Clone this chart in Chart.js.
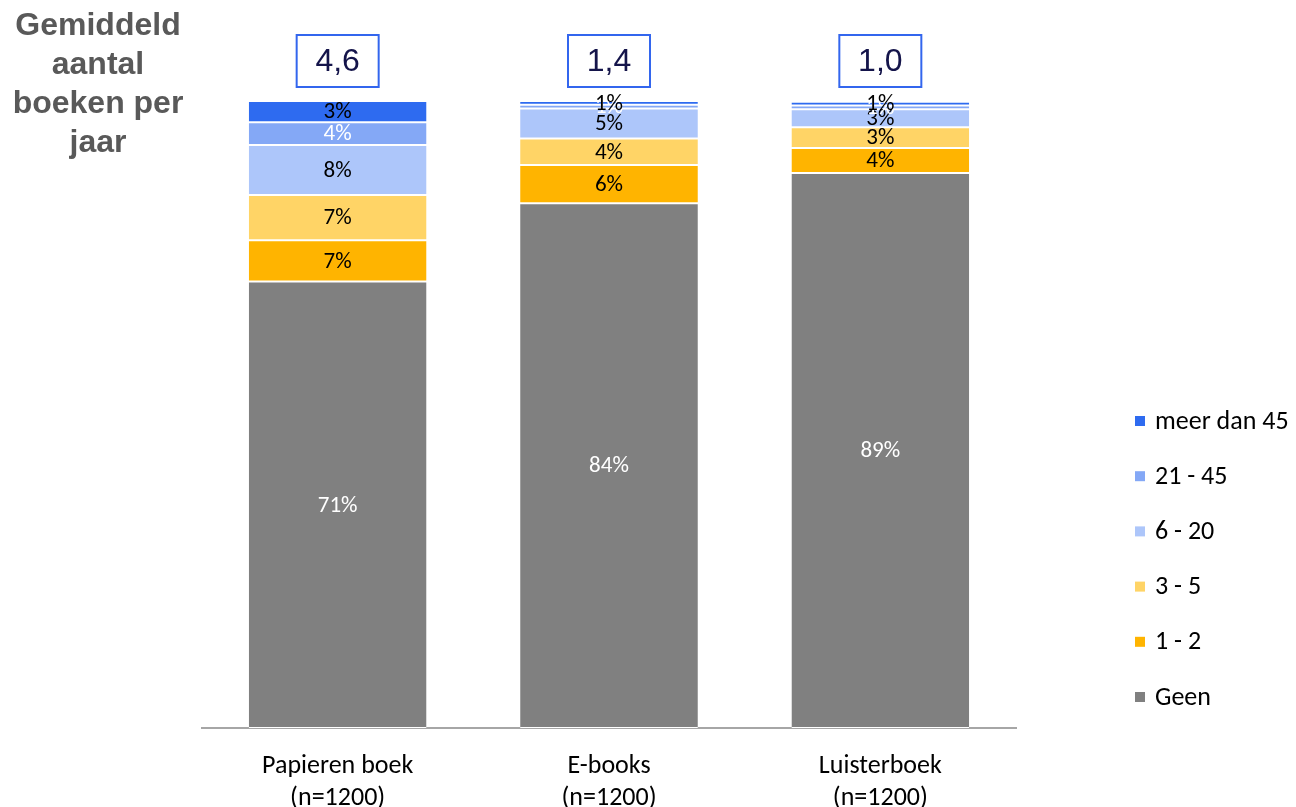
<!DOCTYPE html>
<html>
<head>
<meta charset="utf-8">
<script src="https://cdn.jsdelivr.net/npm/chart.js@4.4.0/dist/chart.umd.min.js"></script>
<style>
  html, body { margin: 0; padding: 0; background: #fff; }
  #wrap { position: relative; width: 1296px; height: 807px; }
  #title {
    position: absolute; left: 0; top: 5px; width: 196px;
    font: bold 32px "Liberation Sans", Arial, sans-serif; line-height: 39px;
    color: #595959; text-align: center;
  }
</style>
</head>
<body>
<div id="wrap">
  <canvas id="chart" width="1296" height="807"></canvas>
  <div id="title">Gemiddeld<br>aantal<br>boeken per<br>jaar</div>
</div>
<script>
// ---------- Data ----------
const categories = [["Papieren boek", "(n=1200)"], ["E-books", "(n=1200)"], ["Luisterboek", "(n=1200)"]];
const avgBooks   = [4.6, 1.4, 1.0];

const geen     = [71.2, 83.7, 88.5];
const een2     = [6.6, 6.1, 4.0];
const drie5    = [7.2, 4.2, 3.3];
const zes20    = [8.0, 4.8, 2.9];
const t21_45   = [3.6, 0.6, 0.6];
const meer45   = [3.4, 0.6, 0.6];

const seriesNames = ["Geen", "1 - 2", "3 - 5", "6 - 20", "21 - 45", "meer dan 45"];
const seriesColors = ["#808080", "#FFB400", "#FFD466", "#ADC6FA", "#84A8F6", "#2E6BF0"];
const labelColors  = ["#ffffff", "#000000", "#000000", "#000000", "#ffffff", "#000000"];

const FONT = "Carlito, Lato, sans-serif";

// ---------- Plugins ----------
const segLabels = {
  id: "segLabels",
  afterDatasetsDraw(chart) {
    const ctx = chart.ctx;
    ctx.save();
    ctx.font = "23px " + FONT;
    ctx.textAlign = "center";
    ctx.textBaseline = "middle";
    chart.data.datasets.forEach((ds, i) => {
      const meta = chart.getDatasetMeta(i);
      meta.data.forEach((bar, j) => {
        const v = ds.data[j];
        ctx.fillStyle = labelColors[i];
        ctx.fillText(Math.round(v) + "%", bar.x, (bar.y + bar.base) / 2 + 1);
      });
    });
    ctx.restore();
  }
};

const avgBoxes = {
  id: "avgBoxes",
  afterDraw(chart) {
    const ctx = chart.ctx;
    const x = chart.scales.x;
    ctx.save();
    avgBooks.forEach((v, i) => {
      const cx = x.getPixelForValue(i);
      const w = 82, h = 52, top = 35;
      ctx.fillStyle = "#fff";
      ctx.fillRect(cx - w / 2, top, w, h);
      ctx.strokeStyle = "#3366EE";
      ctx.lineWidth = 2;
      ctx.strokeRect(cx - w / 2, top, w, h);
      ctx.fillStyle = "#14144A";
      ctx.font = "32px 'Liberation Sans', Arial, sans-serif";
      ctx.textAlign = "center";
      ctx.textBaseline = "middle";
      ctx.fillText(v.toFixed(1).replace(".", ","), cx, top + h / 2 + 1);
    });
    ctx.restore();
  }
};

const sideLegend = {
  id: "sideLegend",
  afterDraw(chart) {
    const ctx = chart.ctx;
    ctx.save();
    ctx.font = "26px " + FONT;
    ctx.textBaseline = "middle";
    ctx.textAlign = "left";
    // top-down: last series first
    for (let k = 0; k < seriesNames.length; k++) {
      const i = seriesNames.length - 1 - k;
      const y = 421 + k * 55.2;
      ctx.fillStyle = seriesColors[i];
      ctx.fillRect(1135, y - 5, 10, 10);
      ctx.fillStyle = "#000";
      ctx.fillText(seriesNames[i], 1155, y + 1);
    }
    ctx.restore();
  }
};

// ---------- Chart ----------
const allSeries = [geen, een2, drie5, zes20, t21_45, meer45];
const datasets = allSeries.map((d, i) => ({
  label: seriesNames[i],
  data: d,
  backgroundColor: seriesColors[i],
  borderColor: "#ffffff",
  borderWidth: { top: 1, bottom: 1, left: 0, right: 0 },
  borderSkipped: false,
  barPercentage: 0.655,
  categoryPercentage: 1.0
}));

new Chart(document.getElementById("chart"), {
  type: "bar",
  data: { labels: categories, datasets },
  options: {
    responsive: false,
    animation: false,
    layout: { padding: { left: 202, right: 280, top: 101, bottom: -21 } },
    plugins: { legend: { display: false }, tooltip: { enabled: false } },
    scales: {
      x: {
        stacked: true,
        grid: { display: false },
        border: { display: true, color: "#A6A6A6", width: 2 },
        ticks: { color: "#000", padding: 14, font: { family: FONT, size: 26, lineHeight: 32 / 26 } }
      },
      y: {
        stacked: true, display: false, min: 0, max: 100
      }
    }
  },
  plugins: [segLabels, avgBoxes, sideLegend]
});
</script>
</body>
</html>
